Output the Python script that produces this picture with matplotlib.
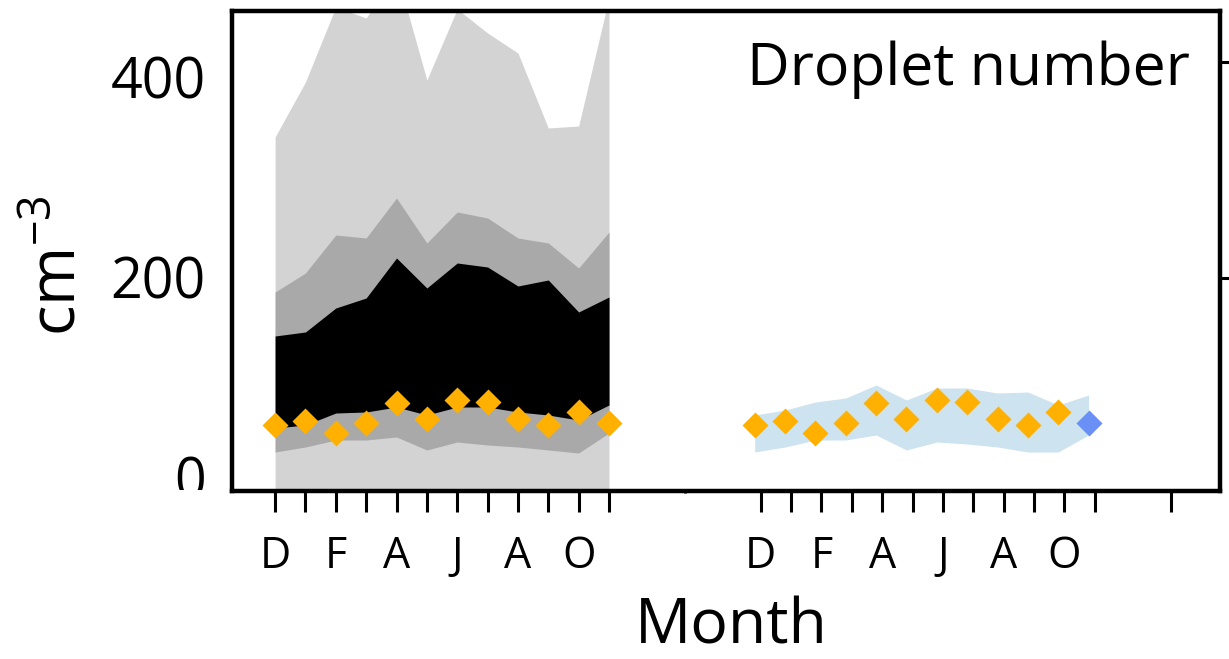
import numpy as np
import matplotlib
matplotlib.use("Agg")
import matplotlib.pyplot as plt
from matplotlib.transforms import Bbox, TransformedBbox

plt.rcParams['font.family'] = ['Open Sans', 'DejaVu Sans']
plt.rcParams['mathtext.default'] = 'regular'

# month index within each 12-month block (Dec .. Nov)
obs_x = np.arange(12)
model_x = np.arange(12) + 15.8

# observed droplet number percentiles (cm-3)
light_hi = [340, 395, 470, 459, 505, 397, 468, 444, 424, 349, 351, 479]
mid_hi = [185, 204, 242, 239, 279, 234, 265, 259, 239, 234, 209, 245]
mid_lo = [25, 30, 37, 37, 40, 27, 35, 32, 30, 27, 24, 44]
black_hi = [141, 145, 169, 179, 219, 189, 214, 210, 191, 197, 165, 180]
black_lo = [49, 52, 64, 65, 70, 62, 70, 70, 65, 62, 57, 72]

# monthly mean values (diamonds)
means = [52, 56, 44, 54, 74, 58, 77, 75, 58, 52, 65, 54]

# model spread
model_hi = [62, 67, 75, 79, 92, 77, 89, 89, 84, 85, 72, 82]
model_lo = [25, 30, 37, 37, 42, 27, 35, 33, 30, 25, 25, 42]

tick_pos = list(range(12)) + list(range(16, 28)) + [29.5]
tick_lab = ['D', '', 'F', '', 'A', '', 'J', '', 'A', '', 'O', ''] * 2 + ['']

ylo, yhi = -14, 466
ms = 13.5

fig = plt.figure(figsize=(12.29, 6.59), dpi=100)
ax = fig.add_axes([232 / 1229, 1 - 491 / 659, 988 / 1229, 480 / 659])

ax.fill_between(obs_x, ylo, light_hi, color='#d3d3d3', lw=0)
ax.fill_between(obs_x, mid_lo, mid_hi, color='#a9a9a9', lw=0)
ax.fill_between(obs_x, black_lo, black_hi, color='black', lw=0)
ax.plot(obs_x, means, 'D', color='#ffb000', ms=ms, mec='none')

ax.fill_between(model_x, model_lo, model_hi, color='#cde3ef', lw=0)
ax.plot(model_x[:-1], means[:-1], 'D', color='#ffb000', ms=ms, mec='none')
ax.plot(model_x[-1:], means[-1:], 'D', color='#6a8ff5', ms=ms, mec='none')

ax.set_xlim(-1.42, 31.13)
ax.set_ylim(ylo, yhi)
ax.set_xticks(tick_pos)
ax.set_xticklabels(tick_lab, fontsize=31)
ax.set_xticks([13.5], minor=True)
ax.set_yticks([0, 200, 400])
ax.set_yticklabels(['0', '200', '400'], fontsize=40)
ax.tick_params(axis='x', which='major', direction='out', length=15, width=2.2, pad=16)
ax.tick_params(axis='x', which='minor', direction='out', length=1.5, width=2.2)
ax.tick_params(axis='y', length=0, pad=19)
for s in ax.spines.values():
    s.set_linewidth(3.2)

# secondary scale on the right, ticks only
ax2 = ax.twinx()
ax2.set_ylim(2.8, 447)
ax2.set_yticks([200, 400])
ax2.tick_params(axis='y', direction='out', length=15, width=2.2, labelright=False)

ax.text(0.9696, 0.846, 'Droplet number', transform=ax.transAxes,
        ha='right', va='baseline', fontsize=42.5)

ax.set_xlabel('Month', fontsize=45)
ax.xaxis.label.set_va('baseline')
ax.xaxis.set_label_coords(0.505, -0.318)

fig.text(75 / 1229, 1 - 266 / 659, 'cm$^{-3}$', rotation=90, rotation_mode='anchor',
         ha='center', va='baseline', fontsize=46)

# trim the lowest y label at the axis floor
clip = TransformedBbox(Bbox([[0, 1 - 490 / 659], [1, 1]]), fig.transFigure)
for lab in ax.get_yticklabels():
    lab.set_clip_box(clip)
    lab.set_clip_on(True)

fig.savefig('out.png', dpi=100)
